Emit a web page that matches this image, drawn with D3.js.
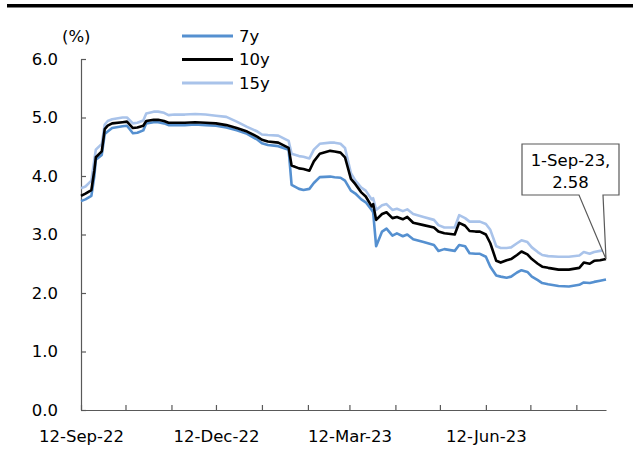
<!DOCTYPE html>
<html>
<head>
<meta charset="utf-8">
<script src="https://cdn.jsdelivr.net/npm/d3@7.9.0/dist/d3.min.js"></script>
<style>
  html, body { margin: 0; padding: 0; background: #fff; }
  svg text { font-family: "DejaVu Sans", sans-serif; font-size: 16.5px; fill: #000; }
</style>
</head>
<body>
<div id="chart"></div>
<script>
const dates = [
  "2022-09-12", "2022-09-15", "2022-09-19", "2022-09-21", "2022-09-22", "2022-09-26", "2022-09-28", "2022-09-30",
  "2022-10-03", "2022-10-10", "2022-10-13", "2022-10-17", "2022-10-20", "2022-10-24", "2022-10-26", "2022-10-31",
  "2022-11-03", "2022-11-07", "2022-11-10", "2022-11-14", "2022-11-21", "2022-11-28",
  "2022-12-05", "2022-12-12", "2022-12-19", "2022-12-26",
  "2023-01-02", "2023-01-09", "2023-01-12", "2023-01-16", "2023-01-23", "2023-01-30",
  "2023-02-01", "2023-02-06", "2023-02-09", "2023-02-13", "2023-02-16", "2023-02-20", "2023-02-27",
  "2023-03-02", "2023-03-06", "2023-03-09", "2023-03-13", "2023-03-16", "2023-03-20", "2023-03-23", "2023-03-27", "2023-03-28", "2023-03-30",
  "2023-04-03", "2023-04-06", "2023-04-10", "2023-04-13", "2023-04-17", "2023-04-20", "2023-04-24",
  "2023-05-01", "2023-05-08", "2023-05-11", "2023-05-15", "2023-05-22", "2023-05-25", "2023-05-29",
  "2023-06-01", "2023-06-05", "2023-06-08", "2023-06-12", "2023-06-15", "2023-06-19", "2023-06-22", "2023-06-26", "2023-06-29",
  "2023-07-03", "2023-07-06", "2023-07-10", "2023-07-13", "2023-07-17", "2023-07-20", "2023-07-24", "2023-07-31",
  "2023-08-07", "2023-08-14", "2023-08-17", "2023-08-21", "2023-08-24", "2023-08-28", "2023-09-01"
];

const y7 = [
  3.57, 3.60, 3.66, 4.00, 4.28, 4.36, 4.72, 4.76,
  4.82, 4.85, 4.86, 4.73, 4.74, 4.78, 4.90, 4.92,
  4.92, 4.90, 4.87, 4.87, 4.87, 4.88,
  4.87, 4.86, 4.83, 4.78,
  4.72, 4.62, 4.56, 4.53, 4.51, 4.45,
  3.85, 3.78, 3.76, 3.78, 3.88, 3.98, 3.99,
  3.98, 3.97, 3.92, 3.75, 3.70, 3.60, 3.55, 3.42, 3.38, 2.80,
  3.05, 3.10, 2.98, 3.02, 2.97, 3.00, 2.92,
  2.87, 2.82, 2.72, 2.75, 2.72, 2.82, 2.80,
  2.68, 2.67, 2.67, 2.62, 2.45, 2.30, 2.28, 2.26, 2.28,
  2.35, 2.39, 2.36, 2.28, 2.22, 2.17, 2.15, 2.12,
  2.11, 2.14, 2.18, 2.17, 2.19, 2.21, 2.23
];

const y10 = [
  3.66, 3.70, 3.76, 4.10, 4.32, 4.42, 4.80, 4.86,
  4.90, 4.92, 4.93, 4.82, 4.83, 4.86, 4.94, 4.96,
  4.96, 4.94, 4.91, 4.91, 4.91, 4.92,
  4.91, 4.90, 4.87, 4.82,
  4.76, 4.67, 4.62, 4.59, 4.57, 4.48,
  4.18, 4.13, 4.12, 4.09, 4.25, 4.38, 4.43,
  4.42, 4.40, 4.32, 3.95, 3.86, 3.72, 3.65, 3.48, 3.52, 3.25,
  3.35, 3.38, 3.28, 3.30, 3.26, 3.30, 3.20,
  3.16, 3.12, 3.05, 3.02, 3.00, 3.20, 3.15,
  3.06, 3.05, 3.05, 3.00, 2.85, 2.55, 2.52, 2.56, 2.58,
  2.65, 2.71, 2.66, 2.58, 2.50, 2.45, 2.43, 2.40,
  2.40, 2.43, 2.52, 2.50, 2.55, 2.56, 2.58
];

const y15 = [
  3.79, 3.82, 3.92, 4.28, 4.45, 4.55, 4.88, 4.94,
  4.97, 5.00, 5.00, 4.90, 4.91, 4.95, 5.07, 5.10,
  5.10, 5.08, 5.04, 5.05, 5.05, 5.06,
  5.05, 5.03, 5.01, 4.93,
  4.84, 4.76, 4.71, 4.70, 4.69, 4.60,
  4.38, 4.34, 4.33, 4.30, 4.45, 4.55, 4.57,
  4.57, 4.55, 4.48, 4.05, 3.92, 3.80, 3.75, 3.60, 3.62, 3.42,
  3.50, 3.52, 3.42, 3.44, 3.40, 3.43, 3.35,
  3.30, 3.25, 3.16, 3.12, 3.12, 3.33, 3.28,
  3.22, 3.22, 3.22, 3.18, 3.08, 2.80, 2.77, 2.77, 2.78,
  2.85, 2.90, 2.87, 2.78, 2.70, 2.65, 2.63, 2.62,
  2.62, 2.64, 2.70, 2.67, 2.70, 2.72, 2.74
];

const seriesNames = ["7y", "10y", "15y"];
const seriesColors = ["#5590d0", "#000000", "#a9c3ea"];
const yTicks = [0, 1, 2, 3, 4, 5, 6];
const xTickDates = [
  "2022-09-12", "2022-10-12", "2022-11-12", "2022-12-12", "2023-01-12", "2023-02-12",
  "2023-03-12", "2023-04-12", "2023-05-12", "2023-06-12", "2023-07-12", "2023-08-12"
];
const xLabelDates = ["2022-09-12", "2022-12-12", "2023-03-12", "2023-06-12"];
const callout = { date: "2023-09-01", value: 2.58, lines: ["1-Sep-23,", "2.58"] };

const width = 633;
const height = 452;
const parse = d3.timeParse("%Y-%m-%d");

const svg = d3.select("#chart")
  .append("svg")
  .attr("width", width)
  .attr("height", height);

// top rule
svg.append("rect")
  .attr("x", 7).attr("y", 4)
  .attr("width", width - 7).attr("height", 3.5)
  .attr("fill", "#000");

const xScale = d3.scaleTime()
  .domain([parse(dates[0]), parse(dates[dates.length - 1])])
  .range([81, 606]);

const yScale = d3.scaleLinear()
  .domain([0, 6])
  .range([410, 59]);

const axisColor = "#595959";

const yAxis = d3.axisLeft(yScale)
  .tickValues(yTicks)
  .tickFormat(d3.format(".1f"))
  .tickSize(-5)
  .tickSizeOuter(0)
  .tickPadding(23);

const yG = svg.append("g")
  .attr("transform", "translate(81,0)")
  .call(yAxis);

const labelSet = new Set(xLabelDates);
const xAxis = d3.axisBottom(xScale)
  .tickValues(xTickDates.map(parse))
  .tickFormat((d) => labelSet.has(d3.timeFormat("%Y-%m-%d")(d)) ? d3.timeFormat("%-d-%b-%y")(d) : "")
  .tickSize(-5)
  .tickSizeOuter(0)
  .tickPadding(20);

const xG = svg.append("g")
  .attr("transform", "translate(0,410)")
  .call(xAxis);

for (const g of [xG, yG]) {
  g.attr("font-family", null).attr("font-size", null);
  g.select(".domain").attr("stroke", axisColor).attr("stroke-width", 1.2);
  g.selectAll(".tick line").attr("stroke", axisColor).attr("stroke-width", 1.2);
  g.selectAll("text").attr("fill", "#000");
}

// unit label
svg.append("text")
  .attr("x", 62).attr("y", 36)
  .attr("dy", "0.35em")
  .text("(%)");

// series
const rows = dates.map((d, i) => ({ date: parse(d), values: [y7[i], y10[i], y15[i]] }));
const line = (k) => d3.line()
  .x((d) => xScale(d.date))
  .y((d) => yScale(d.values[k]));

const drawOrder = [0, 2, 1];
for (const k of drawOrder) {
  svg.append("path")
    .datum(rows)
    .attr("fill", "none")
    .attr("stroke", seriesColors[k])
    .attr("stroke-width", 2.6)
    .attr("stroke-linejoin", "round")
    .attr("d", line(k));
}

// legend
const legend = svg.append("g").attr("transform", "translate(182,36)");
seriesNames.forEach((name, i) => {
  const row = legend.append("g").attr("transform", `translate(0,${i * 23.5})`);
  row.append("line")
    .attr("x1", 0).attr("x2", 51)
    .attr("stroke", seriesColors[i])
    .attr("stroke-width", 2.8);
  row.append("text")
    .attr("x", 57)
    .attr("dy", "0.35em")
    .text(name);
});

// callout
const px = xScale(parse(callout.date));
const py = yScale(callout.value);
const bx0 = 522, bx1 = 619, by0 = 144, by1 = 195;
svg.append("path")
  .attr("d", `M${bx0},${by0}H${bx1}V${by1}H603L${px},${py}L579,${by1}H${bx0}Z`)
  .attr("fill", "#fff")
  .attr("stroke", axisColor)
  .attr("stroke-width", 1.2);

callout.lines.forEach((t, i) => {
  svg.append("text")
    .attr("x", (bx0 + bx1) / 2)
    .attr("y", 160 + i * 22)
    .attr("dy", "0.35em")
    .attr("text-anchor", "middle")
    .text(t);
});
</script>
</body>
</html>
